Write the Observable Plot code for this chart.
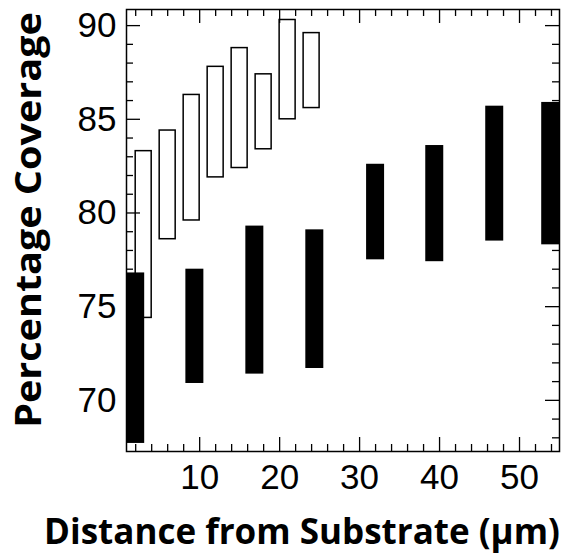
<!DOCTYPE html>
<html>
<head>
<meta charset="utf-8">
<script src="https://cdn.jsdelivr.net/npm/d3@7"></script>
<script src="https://cdn.jsdelivr.net/npm/@observablehq/plot@0.6"></script>
<style>
  html, body { margin: 0; padding: 0; background: #fff; }
  #wrap { position: relative; width: 574px; height: 556px; }
  #chart { position: absolute; left: 0; top: 0; }
  #overlay { position: absolute; left: 0; top: 0; pointer-events: none; }
  .ttl { position: absolute; font-family: "Open Sans", sans-serif; font-weight: bold;
         white-space: nowrap; color: #000; }
  #xt { font-size: 35px; line-height: 35px; }
  #yt { font-size: 36px; line-height: 36px; }
</style>
</head>
<body>
<div id="wrap">
  <div id="chart"></div>
  <div id="overlay"></div>
  <div id="xt" class="ttl"></div>
  <div id="yt" class="ttl"></div>
</div>
<script>
// Open bars (upper series)
const openX    = [3, 6, 9, 12, 15, 18, 21, 24];
const openLow  = [74.4, 78.6, 79.6, 81.9, 82.4, 83.4, 85.0, 85.6];
const openHigh = [83.3, 84.4, 86.3, 87.8, 88.8, 87.4, 90.3, 89.6];

// Filled bars (lower series)
const fillX    = [2.0, 9.4, 16.9, 24.4, 32.0, 39.4, 46.9, 53.9];
const fillLow  = [67.7, 70.9, 71.4, 71.7, 77.5, 77.4, 78.5, 78.3];
const fillHigh = [76.8, 77.0, 79.3, 79.1, 82.6, 83.6, 85.7, 85.9];

const xMajor = [10, 20, 30, 40, 50];
const xMinor = d3.range(2, 55, 2).filter(v => v % 10 !== 0);
const yMajor = [70, 75, 80, 85, 90];
const yMinor = d3.range(68, 91, 1).filter(v => v % 5 !== 0);

const xTitle = "Distance from Substrate (\u00B5m)";
const yTitle = "Percentage Coverage";

const openData = openX.map((x, i) => ({x, lo: openLow[i], hi: openHigh[i]}));
const fillData = fillX.map((x, i) => ({x, lo: fillLow[i], hi: fillHigh[i]}));

const W = 574, H = 556;
const mL = 126, mR = 15, mT = 9, mB = 105;
const iw = W - mL - mR, ih = H - mT - mB;
const xDom = [0.85, 55], yDom = [67.27, 90.86];
const kx = (xDom[1] - xDom[0]) / iw;   // data units per pixel
const ky = (yDom[1] - yDom[0]) / ih;
const major = 14, minor = 7;
const tk = {stroke: "#000", strokeWidth: 1.3};
const base = {width: W, height: H, marginLeft: mL, marginRight: mR, marginTop: mT, marginBottom: mB};

const chart = Plot.plot({
  ...base,
  x: {domain: xDom},
  y: {domain: yDom},
  style: {fontFamily: "Liberation Sans, Arial, sans-serif", background: "#fff"},
  marks: [
    Plot.rect(openData, {x1: d => d.x - 1, x2: d => d.x + 1, y1: "lo", y2: "hi",
      fill: "#fff", stroke: "#000", strokeWidth: 1.5, clip: true}),
    Plot.rect(fillData, {x1: d => d.x - 1.125, x2: d => d.x + 1.125, y1: "lo", y2: "hi",
      fill: "#000", clip: true}),
    Plot.ruleX(xMinor, {x: d => d, y1: yDom[0], y2: yDom[0] + minor * ky, ...tk}),
    Plot.ruleX(xMajor, {x: d => d, y1: yDom[0], y2: yDom[0] + major * ky, ...tk}),
    Plot.ruleY(yMinor, {y: d => d, x1: xDom[0], x2: xDom[0] + minor * kx, ...tk}),
    Plot.frame({stroke: "#000", strokeWidth: 1.5}),
    Plot.axisX(xMajor, {tickSize: 0, tickPadding: 13, fontSize: 35, label: null, tickFormat: d => String(d)}),
    Plot.axisY(yMajor, {tickSize: 0, tickPadding: 10, fontSize: 35, label: null, tickFormat: d => String(d)})
  ]
});
document.getElementById("chart").appendChild(chart);

// Remaining inward ticks (left major, top, right) on a transparent overlay with the same scales
const overlay = Plot.plot({
  ...base,
  x: {domain: xDom, axis: null},
  y: {domain: yDom, axis: null},
  style: {background: "transparent"},
  marks: [
    Plot.ruleY(yMajor, {y: d => d, x1: xDom[0], x2: xDom[0] + major * kx, ...tk}),
    Plot.ruleX(xMinor, {x: d => d, y1: yDom[1], y2: yDom[1] - minor * ky, ...tk}),
    Plot.ruleX(xMajor, {x: d => d, y1: yDom[1], y2: yDom[1] - major * ky, ...tk}),
    Plot.ruleY(yMinor, {y: d => d, x1: xDom[1], x2: xDom[1] - minor * kx, ...tk}),
    Plot.ruleY(yMajor, {y: d => d, x1: xDom[1], x2: xDom[1] - major * kx, ...tk})
  ]
});
document.getElementById("overlay").appendChild(overlay);

// Axis titles (HTML, stretched to the reference widths)
const xt = document.getElementById("xt");
xt.textContent = xTitle;
const sx = 516 / xt.offsetWidth;
xt.style.left = "302px";
xt.style.top = "530px";
xt.style.transform = `translate(-50%, -50%) scaleX(${sx})`;

const yt = document.getElementById("yt");
yt.textContent = yTitle;
const sy = 416 / yt.offsetWidth;
yt.style.left = "28px";
yt.style.top = "220px";
yt.style.transform = `translate(-50%, -50%) rotate(-90deg) scaleX(${sy})`;
</script>
</body>
</html>
